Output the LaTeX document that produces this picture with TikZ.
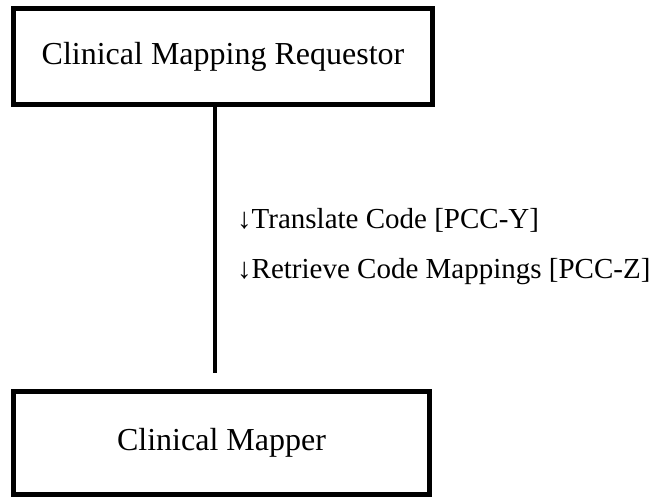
\documentclass[tikz,border=0pt]{standalone}
\usepackage{fontspec}
\setmainfont{Liberation Serif}
\usetikzlibrary{positioning}

\begin{document}
\begin{tikzpicture}[x=1pt,y=-1pt,
        role/.style={rectangle,draw=black,line width=5pt,fill=white,font=\fontsize{32}{38}\selectfont},
        message/.style = {anchor=base west,inner sep=0pt,font=\fontsize{29}{34}\selectfont}
    ]
    \useasboundingbox (0,0) rectangle (656,500);
    \node[role,minimum width=419pt,minimum height=96pt] (requestor) at (223,56.5) {Clinical Mapping Requestor};
    \node[role,minimum width=416pt,minimum height=103pt] (mapper) at (221.5,443) {Clinical Mapper};

    \coordinate (linkend) at (215,373);
    \draw[line width=4pt] (requestor.south -| linkend) -- (linkend);

    \node[message] (translate) at (237,228) {↓Translate Code [PCC-Y]};
    \node[message] (retrieve) at (237,278) {↓Retrieve Code Mappings [PCC-Z]};
\end{tikzpicture}
\end{document}
